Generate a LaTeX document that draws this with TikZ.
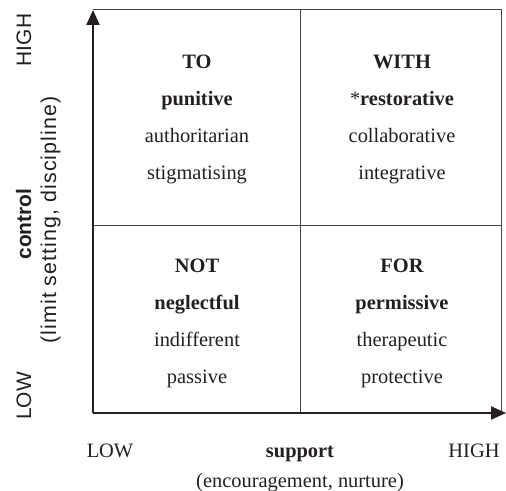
\documentclass[tikz,border=0pt]{standalone}
\usepackage{fontspec}
\setmainfont{Liberation Serif}
\setsansfont{Liberation Sans}
\usetikzlibrary{arrows.meta}
\definecolor{ink}{HTML}{231F20}
\begin{document}
\begin{tikzpicture}[x=1bp,y=-1bp,
  every node/.style={inner sep=0pt,text=ink},
  quad/.style={anchor=base,font=\fontsize{20.5}{24}\selectfont},
  quadhead/.style={quad,font=\fontsize{20.5}{24}\selectfont\bfseries},
  axislabel/.style={anchor=base,font=\fontsize{20.5}{24}\selectfont},
  sidelabel/.style={anchor=base,rotate=90,font=\sffamily\fontsize{21}{24}\selectfont},
  gridline/.style={draw=ink!85,line width=1bp},
  axis/.style={draw=ink,line width=2bp,-{Triangle[length=15bp,width=13bp]}}]
\useasboundingbox (0,0) rectangle (506,491);

% corners of the grid
\coordinate (O)  at (93,413);
\coordinate (TL) at (93,10);
\coordinate (TR) at (501,10);
\coordinate (BR) at (501,413);
\coordinate (MT) at (300,10);
\coordinate (MB) at (300,413);
\coordinate (ML) at (93,225);
\coordinate (MR) at (501,225);
\coordinate (XE) at (506,413);

% quadrant lines
\draw[gridline] (TL) -- (TR) -- (BR);
\draw[gridline] (MT) -- (MB);
\draw[gridline] (ML) -- (MR);

% axes
\draw[axis] (O) -- (TL);
\draw[axis] (O) -- (XE);

% top left quadrant
\node[quadhead] (to)   at (197,69)  {TO};
\node[quadhead] (pun)  at (197,106) {punitive};
\node[quad]     (auth) at (197,143) {authoritarian};
\node[quad]     (stig) at (197,180) {stigmatising};

% top right quadrant
\node[quadhead] (with) at (402,69)  {WITH};
\node[quad]     (rest) at (402,106) {*\textbf{restorative}};
\node[quad]     (coll) at (402,143) {collaborative};
\node[quad]     (integ) at (402,180) {integrative};

% bottom left quadrant
\node[quadhead] (not)  at (197,272) {NOT};
\node[quadhead] (negl) at (197,309) {neglectful};
\node[quad]     (indif) at (197,346) {indifferent};
\node[quad]     (pass) at (197,383) {passive};

% bottom right quadrant
\node[quadhead] (for)  at (402,272) {FOR};
\node[quadhead] (perm) at (402,309) {permissive};
\node[quad]     (ther) at (402,346) {therapeutic};
\node[quad]     (prot) at (402,383) {protective};

% horizontal axis labels
\node[axislabel] (xlow)  at (110,457) {LOW};
\node[axislabel,font=\fontsize{20.5}{24}\selectfont\bfseries] (xname) at (300,457) {support};
\node[axislabel] (xhigh) at (474,457) {HIGH};
\node[axislabel] (xsub)  at (300,487) {(encouragement, nurture)};

% vertical axis labels
\node[sidelabel] (yhigh) at (31,40)  {HIGH};
\node[sidelabel] (ylow)  at (31,396) {LOW};
\node[sidelabel,font=\sffamily\bfseries\fontsize{21}{24}\selectfont] (yname) at (31,224) {control};
\node[sidelabel,font=\sffamily\fontsize{21.5}{26}\selectfont\addfontfeature{LetterSpace=5}] (ysub) at (56,220) {(limit setting, discipline)};
\end{tikzpicture}
\end{document}
